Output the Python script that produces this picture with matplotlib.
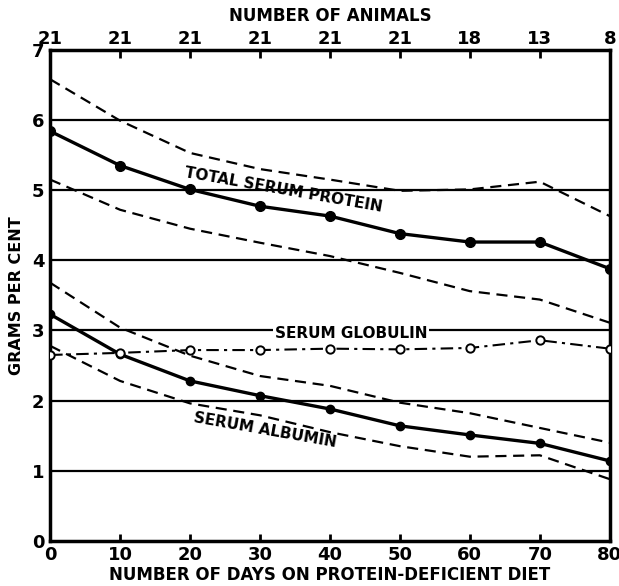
import matplotlib.pyplot as plt
import numpy as np

days = [0, 10, 20, 30, 40, 50, 60, 70, 80]
animals = ['21', '21', '21', '21', '21', '21', '18', '13', '8']

total = [5.84, 5.35, 5.01, 4.77, 4.63, 4.38, 4.26, 4.26, 3.88]
total_hi = [6.58, 5.99, 5.53, 5.30, 5.15, 4.99, 5.01, 5.12, 4.63]
total_lo = [5.15, 4.72, 4.45, 4.25, 4.06, 3.82, 3.56, 3.44, 3.11]

albumin = [3.23, 2.66, 2.28, 2.07, 1.88, 1.64, 1.51, 1.39, 1.14]
albumin_hi = [3.68, 3.04, 2.64, 2.35, 2.21, 1.97, 1.82, 1.61, 1.40]
albumin_lo = [2.78, 2.28, 1.96, 1.79, 1.55, 1.35, 1.20, 1.22, 0.88]

globulin = [2.65, 2.68, 2.72, 2.72, 2.74, 2.73, 2.75, 2.86, 2.74]

font = dict(family='DejaVu Sans', weight='heavy')

fig = plt.figure(figsize=(6.19, 5.86), dpi=100)
ax = fig.add_axes([0.081, 0.077, 0.904, 0.838])

for y in range(1, 7):
    ax.axhline(y, color='black', lw=1.6, zorder=1)

ax.plot(days, total, color='black', lw=2.4, marker='o', ms=7, zorder=3)
ax.plot(days, total_hi, color='black', lw=1.6, ls=(0, (5, 3)), zorder=2)
ax.plot(days, total_lo, color='black', lw=1.6, ls=(0, (5, 3)), zorder=2)

ax.plot(days, albumin, color='black', lw=2.4, marker='o', ms=6, zorder=3)
ax.plot(days, albumin_hi, color='black', lw=1.6, ls=(0, (5, 3)), zorder=2)
ax.plot(days, albumin_lo, color='black', lw=1.6, ls=(0, (5, 3)), zorder=2)

ax.plot(days, globulin, color='black', lw=1.5, ls=(0, (6, 2.5, 1.5, 2.5)),
        marker='o', ms=6, mfc='white', mew=1.4, zorder=4)

ax.text(33.4, 5.0, 'TOTAL SERUM PROTEIN', rotation=-10, ha='center', va='center',
        fontsize=11, zorder=5, **font)
ax.text(43.0, 2.96, 'SERUM GLOBULIN', ha='center', va='center', fontsize=11,
        zorder=5, bbox=dict(facecolor='white', edgecolor='none', pad=1), **font)
ax.text(30.7, 1.58, 'SERUM ALBUMIN', rotation=-10, ha='center', va='center',
        fontsize=11, zorder=5, **font)

ax.set_xlim(0, 80)
ax.set_ylim(0, 7)
ax.set_xticks(days)
ax.set_xticklabels([str(d) for d in days], fontsize=13, **font)
ax.set_yticks(range(0, 8))
ax.set_yticklabels([str(v) for v in range(0, 8)], fontsize=13, **font)
ax.tick_params(direction='in', length=5, width=2, pad=4)
ax.tick_params(axis='y', length=0, pad=4)

top = ax.secondary_xaxis('top')
top.set_xticks(days)
top.set_xticklabels(animals, fontsize=13, **font)
top.tick_params(direction='in', length=6, width=2, pad=1)
top.set_xlabel('NUMBER OF ANIMALS', fontsize=12, labelpad=7, **font)

ax.set_xlabel('NUMBER OF DAYS ON PROTEIN-DEFICIENT DIET', fontsize=12, labelpad=1, **font)
ax.set_ylabel('GRAMS PER CENT', fontsize=11.5, labelpad=6, **font)

for s in ax.spines.values():
    s.set_linewidth(2.5)

fig.savefig('out.png', dpi=100)
